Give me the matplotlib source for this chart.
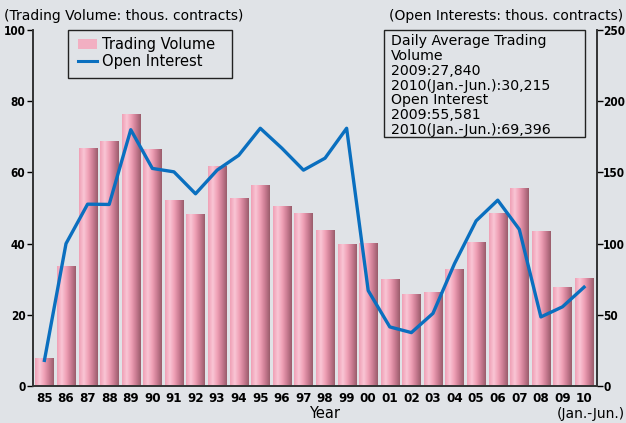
import numpy as np
import matplotlib
matplotlib.use('Agg')
from matplotlib import pyplot as plt
from matplotlib.colors import LinearSegmentedColormap
from matplotlib.patches import Patch, Rectangle
from matplotlib.lines import Line2D
from matplotlib.font_manager import FontProperties

years = ['85', '86', '87', '88', '89', '90', '91', '92', '93', '94', '95', '96', '97',
         '98', '99', '00', '01', '02', '03', '04', '05', '06', '07', '08', '09', '10']
trading_volume = [8.0, 33.7, 66.8, 68.8, 76.4, 66.5, 52.2, 48.3, 61.8, 52.8, 56.4, 50.5, 48.6,
                  43.8, 39.8, 40.1, 30.0, 25.8, 26.4, 32.8, 40.4, 48.7, 55.6, 43.5, 27.84, 30.215]
open_interest = [18, 100, 127.7, 127.5, 180, 152.8, 150.4, 135, 151.6, 162, 181, 167, 151.6,
                 160, 181, 67, 41.5, 37.5, 51, 86, 116, 130.5, 110, 48.5, 55.6, 69.4]

note = ("Daily Average Trading\nVolume\n2009:27,840\n2010(Jan.-Jun.):30,215\n"
        "Open Interest\n2009:55,581\n2010(Jan.-Jun.):69,396")

bg = '#e0e3e7'
tick_fp = FontProperties(family='DejaVu Sans', weight='bold', stretch='condensed', size=9.5)
ytick_fp = FontProperties(family='DejaVu Sans', weight='bold', stretch='condensed', size=8.5)

fig = plt.figure(figsize=(6.26, 4.23), dpi=100, facecolor=bg)
ax = fig.add_axes([0.0527, 0.0875, 0.901, 0.8415])
ax.set_facecolor('none')
ax2 = ax.twinx()

x = np.arange(len(years))
bars = ax.bar(x, trading_volume, width=0.84, color='none', zorder=2)

# pink cylinder-like shading on each bar
cmap = LinearSegmentedColormap.from_list('pinkbar', ['#f0a0b6', '#f9c6d5', '#ef9fb5', '#c97b91', '#9a5d6c'])
grad = np.linspace(0, 1, 64).reshape(1, -1)
for b in bars:
    im = ax.imshow(grad, cmap=cmap, aspect='auto', zorder=2,
                   extent=[b.get_x(), b.get_x() + b.get_width(), 0, b.get_height()])
    im.set_clip_path(b)

ax2.plot(x, open_interest, color='#0a6fbf', lw=2.4, zorder=3, solid_joinstyle='round')

ax.set_xlim(-0.53, len(years) - 0.4)
ax.set_ylim(0, 100)
ax2.set_ylim(0, 250)
ax.set_yticks([0, 20, 40, 60, 80, 100])
ax2.set_yticks([0, 50, 100, 150, 200, 250])
ax.set_xticks(x)
ax.set_xticklabels(years)
for a in (ax, ax2):
    a.spines['top'].set_visible(False)
    for s in ['left', 'right', 'bottom']:
        a.spines[s].set_linewidth(1.2)
        a.spines[s].set_color('#333333')
    a.tick_params(length=4, width=1, pad=3)
    for lbl in a.get_xticklabels():
        lbl.set_fontproperties(tick_fp)
    for lbl in a.get_yticklabels():
        lbl.set_fontproperties(ytick_fp)
ax.tick_params(axis='x', length=0, pad=4)
ax.tick_params(axis='y', pad=1.5)
ax2.tick_params(axis='y', pad=0.5)

# legend
handles = [Patch(facecolor='#f2afc2', edgecolor='none'),
           Line2D([0], [0], color='#0a6fbf', lw=2.2)]
leg = ax.legend(handles, ['Trading Volume', 'Open Interest'], loc='upper left',
                bbox_to_anchor=(0.056, 1.016), frameon=False,
                fontsize=10.5, handlelength=1.3, labelspacing=0.12, handletextpad=0.4)
ax.add_patch(Rectangle((0.062, 0.865), 0.291, 0.135, transform=ax.transAxes, fill=False,
                       edgecolor='#222222', lw=1.0, clip_on=False, zorder=4))

ax.text(0.634, 0.988, note, transform=ax.transAxes, ha='left', va='top', fontsize=10.2,
        linespacing=1.07)
ax.add_patch(Rectangle((0.622, 0.699), 0.357, 0.301, transform=ax.transAxes, fill=False,
                       edgecolor='#222222', lw=1.0, clip_on=False, zorder=4))

fig.text(0.006, 0.962, '(Trading Volume: thous. contracts)', ha='left', va='center', fontsize=10)
fig.text(0.995, 0.962, '(Open Interests: thous. contracts)', ha='right', va='center', fontsize=10)
fig.text(0.518, 0.022, 'Year', ha='center', va='center', fontsize=10.5)
fig.text(0.999, 0.022, '(Jan.-Jun.)', ha='right', va='center', fontsize=10)

fig.savefig('out.png', dpi=100, facecolor=bg)
